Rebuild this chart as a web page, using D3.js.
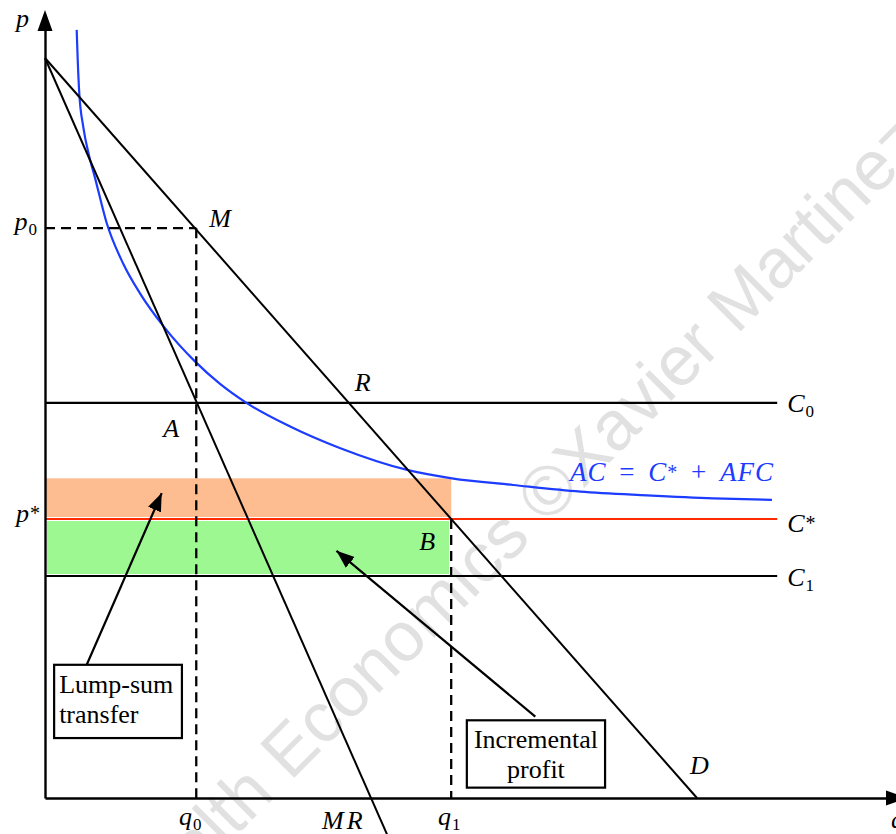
<!DOCTYPE html>
<html>
<head>
<meta charset="utf-8">
<script src="https://cdn.jsdelivr.net/npm/d3@7"></script>
<style>
  html, body { margin: 0; padding: 0; background: #fff; }
  svg { display: block; }
</style>
</head>
<body>
<script>
// Natural monopoly with a lump-sum transfer: demand, marginal revenue,
// constant marginal-cost levels and the average-cost curve.

// Demand p = 10 - q, marginal revenue p = 10 - 2q (continues below the q axis)
const demandPoints = [[0, 10], [10, 0]];
const marginalRevenuePoints = [[0, 10], [5.275, -0.55]];

// Horizontal cost levels
const costNames = ["C0", "C*", "C1"];
const costValues = [5.34, 3.77, 3.0];

// Average cost AC = C* + AFC
const acQuantities = [0.486, 0.502, 0.526, 0.587, 0.679, 0.767, 0.946, 1.20, 1.457, 1.84, 2.30,
                      2.68, 3.09, 3.76, 4.52, 5.57, 6.24, 7.18, 8.21, 9.23, 10.25, 11.15];
const acValues     = [10.38, 9.97, 9.52, 9.07, 8.67, 8.38, 7.77, 7.22, 6.82, 6.35, 5.90,
                      5.60, 5.34, 5.02, 4.73, 4.43, 4.32, 4.23, 4.14, 4.09, 4.05, 4.03];

// Key quantities and prices
const q0 = 2.32, p0 = 7.70;   // monopoly point M
const q1 = 6.23;              // demand meets C* (point B)
const acAtQ1 = 4.32;          // average cost at q1
const costLineEnd = 11.23;

const W = 896, H = 834;
const x = d3.scaleLinear().domain([0, 10]).range([45, 697]);
const y = d3.scaleLinear().domain([0, 10]).range([798, 58]);

const svg = d3.select("body").append("svg")
  .attr("width", W).attr("height", H)
  .attr("viewBox", `0 0 ${W} ${H}`);

const MATH = "'Liberation Serif', 'DejaVu Serif', serif";
const line = d3.line().x(d => x(d[0])).y(d => y(d[1]));

// Watermark
svg.append("text")
  .attr("transform", "translate(530,542) rotate(-45)")
  .attr("text-anchor", "middle")
  .attr("font-family", "'Liberation Sans', Arial, sans-serif")
  .attr("font-size", 70)
  .attr("fill", "#e1e1e1")
  .text("Health Economics ©Xavier Martinez");

// Lump-sum transfer area (between C* and AC at q1)
svg.append("rect")
  .attr("x", x(0)).attr("y", y(acAtQ1))
  .attr("width", x(q1) - x(0)).attr("height", y(costValues[1]) - y(acAtQ1))
  .attr("fill", "#fdbd90");

// Incremental profit area (between C1 and C*)
svg.append("rect")
  .attr("x", x(0)).attr("y", y(costValues[1]))
  .attr("width", x(q1) - x(0)).attr("height", y(costValues[2]) - y(costValues[1]))
  .attr("fill", "#9ef892").attr("stroke", "#fff").attr("stroke-width", 4);

// Cost levels
const costColors = ["#000", "#ff2b00", "#000"];
costValues.forEach((c, i) => {
  svg.append("path")
    .attr("d", line([[0, c], [costLineEnd, c]]))
    .attr("stroke", costColors[i]).attr("stroke-width", 2.2).attr("fill", "none");
});

// Average cost curve
svg.append("path")
  .attr("d", d3.line().curve(d3.curveMonotoneX)
    .x((d, i) => x(acQuantities[i])).y(d => y(d))(acValues))
  .attr("stroke", "#1c3cff").attr("stroke-width", 2.2).attr("fill", "none");

// Demand and marginal revenue
svg.append("path").attr("d", line(demandPoints))
  .attr("stroke", "#000").attr("stroke-width", 2).attr("fill", "none");
svg.append("path").attr("d", line(marginalRevenuePoints))
  .attr("stroke", "#000").attr("stroke-width", 2).attr("fill", "none");

// Dashed guides
const dashed = pts => svg.append("path").attr("d", line(pts))
  .attr("stroke", "#000").attr("stroke-width", 2.3).attr("fill", "none")
  .attr("stroke-dasharray", "10,6");
dashed([[0, p0], [q0, p0]]);
dashed([[q0, p0], [q0, 0]]);
dashed([[q1, costValues[1]], [q1, 0]]);

// Axes (no ticks), with arrowheads
const xAxisEnd = x.invert(887), yAxisEnd = y.invert(30);
const xAxisScale = x.copy().domain([0, xAxisEnd]).range([x(0), x(xAxisEnd)]);
const yAxisScale = y.copy().domain([0, yAxisEnd]).range([y(0), y(yAxisEnd)]);
svg.append("g").attr("transform", `translate(0,${y(0)})`)
  .call(d3.axisBottom(xAxisScale).tickValues([]).tickSizeOuter(0))
  .select(".domain").attr("stroke-width", 2.4);
svg.append("g").attr("transform", `translate(${x(0)},0)`)
  .call(d3.axisLeft(yAxisScale).tickValues([]).tickSizeOuter(0))
  .select(".domain").attr("stroke-width", 2.4);
svg.append("path")
  .attr("d", `M${x(xAxisEnd) - 1},${y(0) - 7.5}L${x(xAxisEnd) + 20},${y(0)}L${x(xAxisEnd) - 1},${y(0) + 7.5}Z`)
  .attr("fill", "#000");
svg.append("path")
  .attr("d", `M${x(0) - 7.5},${y(yAxisEnd) + 1}L${x(0)},${y(yAxisEnd) - 20}L${x(0) + 7.5},${y(yAxisEnd) + 1}Z`)
  .attr("fill", "#000");

// Math labels: base letters in italic, optional subscript / superscript
function mathLabel(px, py, base, opts = {}) {
  const t = svg.append("text")
    .attr("x", px).attr("y", py)
    .attr("font-family", MATH).attr("font-size", 26)
    .attr("fill", opts.color || "#000")
    .attr("text-anchor", opts.anchor || "start");
  const b = t.append("tspan").attr("font-style", "italic").text(base);
  if (opts.spacing) b.attr("letter-spacing", opts.spacing);
  if (opts.sub !== undefined) {
    t.append("tspan").attr("font-size", 17).attr("dy", 5).attr("dx", 1).text(opts.sub);
  }
  if (opts.sup !== undefined) {
    t.append("tspan").attr("font-size", 20).attr("dy", -2).attr("dx", 1).text(opts.sup);
  }
  return t;
}

mathLabel(16, 27, "p");
mathLabel(891, 828, "q");
mathLabel(x(0) - 8, y(p0) + 2, "p", { anchor: "end", sub: "0" });
mathLabel(x(0) - 5, y(costValues[1]) + 3, "p", { anchor: "end", sup: "*" });
mathLabel(x(q0) + 13, y(p0) - 1, "M");
mathLabel(x(10 - costValues[0]) + 6, y(costValues[0]) - 12, "R");
mathLabel(x(q0) - 33, y(costValues[0]) + 34, "A");
mathLabel(x(q1) - 32, y(costValues[1]) + 31, "B");
mathLabel(x(10) - 7, y(0) - 24, "D");
mathLabel(x(5) - 49, y(0) + 31, "MR", { spacing: 3 });
mathLabel(x(q0) - 6, y(0) + 27, "q", { anchor: "middle", sub: "0" });
mathLabel(x(q1) - 2, y(0) + 27, "q", { anchor: "middle", sub: "1" });

const labelX = x(costLineEnd) + 10;
mathLabel(labelX, y(costValues[0]) + 9, "C", { sub: "0" });
mathLabel(labelX, y(costValues[1]) + 13, "C", { sup: "*" });
mathLabel(labelX, y(costValues[2]) + 10, "C", { sub: "1" });

// AC = C* + AFC
const ac = svg.append("text")
  .attr("x", 570).attr("y", 481)
  .attr("font-family", MATH).attr("font-size", 27).attr("fill", "#1c3cff")
  .attr("letter-spacing", 1);
ac.append("tspan").attr("font-style", "italic").text("AC");
ac.append("tspan").attr("dx", 5).text(" = ");
ac.append("tspan").attr("dx", 5).attr("font-style", "italic").text("C");
ac.append("tspan").attr("font-size", 20).attr("dy", -2).text("*");
ac.append("tspan").attr("dy", 2).attr("dx", 5).text(" + ");
ac.append("tspan").attr("dx", 5).attr("font-style", "italic").text("AFC");

// Annotation arrows
svg.append("defs").append("marker")
  .attr("id", "head").attr("markerUnits", "userSpaceOnUse")
  .attr("viewBox", "0 -7 18 14").attr("refX", 18).attr("refY", 0)
  .attr("markerWidth", 18).attr("markerHeight", 14).attr("orient", "auto")
  .append("path").attr("d", "M0,-7L18,0L0,7Z").attr("fill", "#000");

function arrow(from, to) {
  svg.append("path").attr("d", line([from, to]))
    .attr("stroke", "#000").attr("stroke-width", 2.2).attr("fill", "none")
    .attr("marker-end", "url(#head)");
}
arrow([0.64, 1.80], [1.79, 4.12]);
arrow([7.52, 1.10], [4.47, 3.34]);

// Annotation boxes
function noteBox(q, p, qEnd, pEnd, lines, align) {
  const x0 = x(q), y0 = y(p), x1 = x(qEnd), y1 = y(pEnd);
  svg.append("rect").attr("x", x0).attr("y", y0)
    .attr("width", x1 - x0).attr("height", y1 - y0)
    .attr("fill", "#fff").attr("stroke", "#000").attr("stroke-width", 2.2);
  const tx = align === "middle" ? (x0 + x1) / 2 : x0 + 5;
  lines.forEach((s, i) => {
    svg.append("text")
      .attr("x", tx).attr("y", y0 + 28 + i * 30)
      .attr("text-anchor", align)
      .attr("font-family", MATH).attr("font-size", 26)
      .attr("fill", "#000").text(s);
  });
}
noteBox(0.14, 1.80, 2.10, 0.81, ["Lump-sum", "transfer"], "start");
noteBox(6.47, 1.05, 8.59, 0.14, ["Incremental", "profit"], "middle");
</script>
</body>
</html>
